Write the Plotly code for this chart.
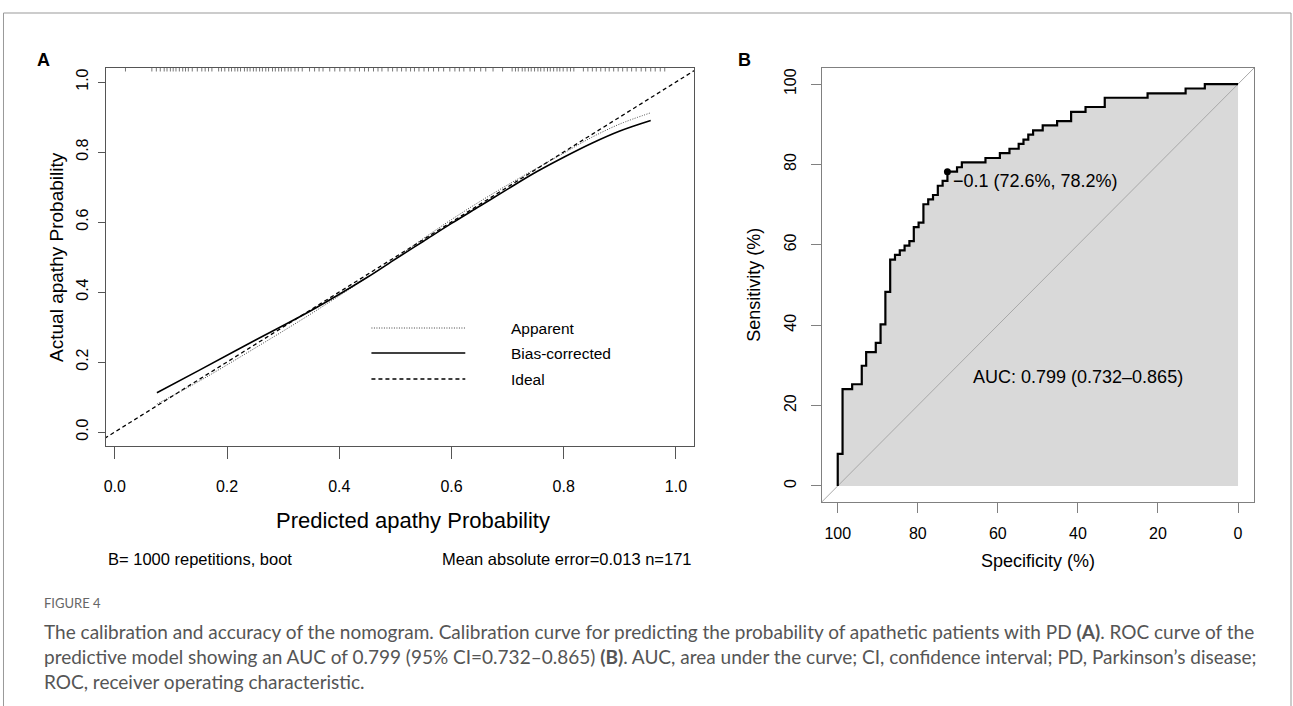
import plotly.graph_objects as go

W, H = 1293, 706

# ---------------- Panel A data (calibration) ----------------
pred_x = [0.075, 0.15, 0.25, 0.35, 0.45, 0.50, 0.55, 0.60, 0.65, 0.70, 0.75, 0.80, 0.85, 0.90, 0.955]
apparent_y = [0.080, 0.145, 0.240, 0.338, 0.442, 0.496, 0.553, 0.607, 0.658, 0.706, 0.752, 0.797, 0.842, 0.880, 0.912]
bias_corrected_y = [0.112, 0.176, 0.262, 0.347, 0.442, 0.494, 0.545, 0.596, 0.645, 0.694, 0.742, 0.785, 0.825, 0.860, 0.890]
ideal = [-0.05, 1.05]
rug = [0.019, 0.066, 0.074, 0.081, 0.088, 0.093, 0.099, 0.104, 0.109, 0.115, 0.121, 0.126, 0.131, 0.138,
       0.147, 0.155, 0.161, 0.167, 0.173,
       0.185, 0.190, 0.196, 0.203, 0.208, 0.214, 0.219, 0.224, 0.231, 0.236, 0.241, 0.247, 0.252, 0.258,
       0.263, 0.269, 0.274, 0.281, 0.286, 0.292, 0.297, 0.303, 0.309, 0.314, 0.321, 0.327, 0.334,
       0.347, 0.356, 0.364, 0.371, 0.383, 0.392, 0.401, 0.410,
       0.419, 0.428, 0.436, 0.445, 0.452, 0.461, 0.469, 0.476, 0.487, 0.495, 0.503, 0.511, 0.519, 0.527, 0.534,
       0.542, 0.551, 0.559, 0.568, 0.577, 0.586, 0.597,
       0.606, 0.614, 0.622, 0.633, 0.641, 0.652, 0.661,
       0.674, 0.691,
       0.708, 0.714, 0.719, 0.726, 0.731, 0.737, 0.742, 0.748, 0.754, 0.759, 0.765, 0.771, 0.776, 0.782,
       0.788, 0.793, 0.799, 0.806, 0.812, 0.818,
       0.835, 0.843, 0.851, 0.858, 0.866, 0.874, 0.881, 0.889, 0.897, 0.905, 0.913, 0.921, 0.929, 0.938,
       0.946, 0.955, 0.963, 0.972, 0.980]
calib_ticks = [0.0, 0.2, 0.4, 0.6, 0.8, 1.0]

# ---------------- Panel B data (ROC) ----------------
specificity = [100, 100, 98.8, 96.4, 94.0, 92.9, 90.5, 89.3, 88.1, 86.9, 85.7, 84.5, 83.3, 82.1, 81.0,
               79.8, 78.6, 77.4, 76.2, 75.0, 73.8, 72.6, 70.2, 69.0, 63.1, 59.5, 57.1, 54.8, 53.6, 52.4,
               51.2, 48.8, 45.2, 41.7, 38.1, 33.3, 22.6, 13.1, 8.3, 0]
sensitivity = [0, 8.0, 24.1, 25.3, 29.9, 33.3, 35.6, 40.2, 48.3, 56.3, 57.5, 58.6, 59.8, 60.9, 64.4,
               65.5, 70.1, 71.3, 72.4, 74.7, 75.9, 78.2, 79.3, 80.5, 81.6, 82.8, 83.9, 85.1, 86.2, 87.4,
               88.5, 89.7, 90.8, 93.1, 94.3, 96.6, 97.7, 98.9, 100, 100]
best_spec, best_sens, best_thr = 72.6, 78.2, "−0.1"
auc_text = "AUC: 0.799 (0.732–0.865)"
roc_ticks = [100, 80, 60, 40, 20, 0]
chance = [104, -4]


def px(x):
    return x / W


def py(y):
    return 1 - y / H


FONT = "Liberation Sans, Arial, Helvetica, sans-serif"

fig = go.Figure()

# Panel A traces
fig.add_trace(go.Scatter(x=ideal, y=ideal, mode="lines", xaxis="x", yaxis="y",
                         line=dict(color="black", width=1.3, dash="4px,3px"), showlegend=False))
fig.add_trace(go.Scatter(x=pred_x, y=apparent_y, mode="lines", line_shape="spline", xaxis="x", yaxis="y",
                         line=dict(color="#444", width=1, dash="1px,1.5px"), showlegend=False))
fig.add_trace(go.Scatter(x=pred_x, y=bias_corrected_y, mode="lines", line_shape="spline", xaxis="x", yaxis="y",
                         line=dict(color="black", width=1.6), showlegend=False))
rx, ry = [], []
for v in rug:
    rx += [v, v, None]
    ry += [1.04, 1.03, None]
fig.add_trace(go.Scatter(x=rx, y=ry, mode="lines", xaxis="x", yaxis="y",
                         line=dict(color="#777", width=1), showlegend=False))

# Panel B traces
fig.add_trace(go.Scatter(x=specificity, y=sensitivity, mode="lines", line_shape="hv", xaxis="x2", yaxis="y2",
                         fill="tozeroy", fillcolor="#d9d9d9", line=dict(color="rgba(0,0,0,0)", width=0),
                         showlegend=False))
fig.add_trace(go.Scatter(x=chance, y=[100 - c for c in chance], mode="lines", xaxis="x2", yaxis="y2",
                         line=dict(color="#a8a8a8", width=1), showlegend=False))
fig.add_trace(go.Scatter(x=specificity, y=sensitivity, mode="lines", line_shape="hv", xaxis="x2", yaxis="y2",
                         line=dict(color="black", width=2.2), showlegend=False))
fig.add_trace(go.Scatter(x=[best_spec], y=[best_sens], mode="markers", xaxis="x2", yaxis="y2",
                         marker=dict(color="black", size=7), showlegend=False))

axis_common = dict(showgrid=False, zeroline=False, showline=True, mirror=True, ticks="outside",
                   tickfont=dict(family=FONT, size=16, color="black"))

fig.update_layout(
    width=W, height=H, margin=dict(l=0, r=0, t=0, b=0),
    paper_bgcolor="white", plot_bgcolor="white",
    xaxis=dict(domain=[px(104), px(693)], range=[-0.016, 1.032], tickvals=calib_ticks, tickformat=".1f",
               linecolor="#555", tickcolor="#555", ticklen=12, anchor="y", ticklabelstandoff=14, **axis_common),
    yaxis=dict(domain=[py(446), py(68)], range=[-0.04, 1.04], tickvals=calib_ticks, tickformat=".1f",
               linecolor="#555", tickcolor="#555", ticklen=7, tickangle=-90, anchor="x", ticklabelstandoff=3,
               **axis_common),
    xaxis2=dict(domain=[px(821), px(1254)], range=[104, -4], tickvals=roc_ticks, anchor="y2",
                linecolor="#808080", tickcolor="#808080", ticklen=10, ticklabelstandoff=7, **axis_common),
    yaxis2=dict(domain=[py(502), py(68)], range=[-4, 104], tickvals=roc_ticks, anchor="x2", tickangle=-90,
                linecolor="#808080", tickcolor="#808080", ticklen=10, ticklabelstandoff=8, **axis_common),
)

ann = []


def add_text(text, x, y, size, xanchor="center", yanchor="middle", angle=0, family=FONT, color="black"):
    ann.append(dict(text=text, x=px(x), y=py(y), xref="paper", yref="paper", showarrow=False,
                    xanchor=xanchor, yanchor=yanchor, textangle=angle,
                    font=dict(family=family, size=size, color=color)))


add_text("<b>A</b>", 42, 60, 18)
add_text("<b>B</b>", 744, 60, 18)
add_text("Actual apathy Probability", 54, 257, 19, angle=-90)
add_text("Predicted apathy Probability", 412, 520, 22)
add_text("B= 1000 repetitions, boot", 104, 559, 16.5, xanchor="left")
add_text("Mean absolute error=0.013 n=171", 693, 559, 16.5, xanchor="right")
add_text("Apparent", 508, 328, 15.5, xanchor="left")
add_text("Bias-corrected", 508, 353, 15.5, xanchor="left")
add_text("Ideal", 508, 379, 15.5, xanchor="left")
add_text("Sensitivity (%)", 753, 285, 18, angle=-90)
add_text("Specificity (%)", 1037.5, 561, 18)

ann.append(dict(text=f"{best_thr} ({best_spec}%, {best_sens}%)", x=71.6, y=75.9, xref="x2", yref="y2",
                showarrow=False, xanchor="left", yanchor="middle", font=dict(family=FONT, size=18, color="black")))
ann.append(dict(text=auc_text, x=40, y=27.1, xref="x2", yref="y2", showarrow=False,
                xanchor="center", yanchor="middle", font=dict(family=FONT, size=18, color="black")))

CAP = "Lato, Open Sans, sans-serif"
add_text("FIGURE 4", 40, 603, 13, xanchor="left", family=CAP, color="#666")
add_text("The calibration and accuracy of the nomogram. Calibration curve for predicting the probability of "
         "apathetic patients with PD <b>(A)</b>. ROC curve of the", 40, 631, 19, xanchor="left", family=CAP,
         color="#555")
add_text("predictive model showing an AUC of 0.799 (95% CI=0.732–0.865) <b>(B)</b>. AUC, area under the curve; "
         "CI, confidence interval; PD, Parkinson’s disease;", 40, 656, 19, xanchor="left", family=CAP, color="#555")
add_text("ROC, receiver operating characteristic.", 40, 681, 19, xanchor="left", family=CAP, color="#555")

fig.update_layout(annotations=ann)

shapes = [
    dict(type="rect", xref="paper", yref="paper", x0=px(1.5), x1=px(1291), y0=-0.1, y1=py(13),
         line=dict(color="#999", width=1), fillcolor="rgba(0,0,0,0)", layer="below"),
    dict(type="line", xref="paper", yref="paper", x0=px(370), x1=px(464), y0=py(328), y1=py(328),
         line=dict(color="#444", width=1, dash="1px,1.5px")),
    dict(type="line", xref="paper", yref="paper", x0=px(370), x1=px(464), y0=py(353), y1=py(353),
         line=dict(color="black", width=1.6)),
    dict(type="line", xref="paper", yref="paper", x0=px(370), x1=px(464), y0=py(379), y1=py(379),
         line=dict(color="black", width=1.3, dash="4px,3px")),
]
fig.update_layout(shapes=shapes)

fig.write_html("out.html")
